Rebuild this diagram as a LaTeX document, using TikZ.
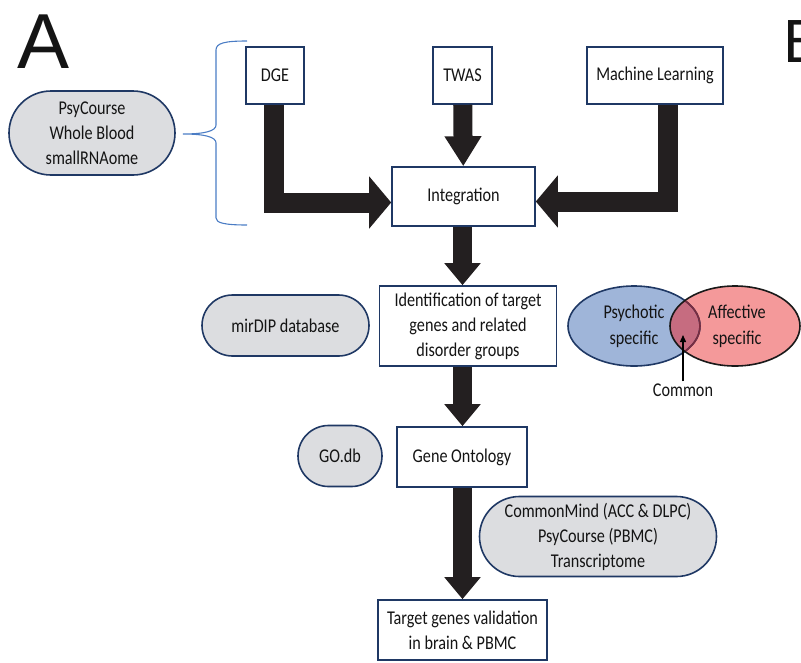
\documentclass[tikz,border=0pt]{standalone}
\usepackage{fontspec}
\setmainfont{Carlito}[FakeStretch=0.83]
\newfontfamily\panelfont{Liberation Sans}
\usetikzlibrary{arrows.meta,calc,shapes.misc}
\definecolor{navy}{HTML}{1F3864}
\definecolor{pillgray}{HTML}{DCDDE0}
\definecolor{arrowblack}{HTML}{231F20}
\definecolor{bracecol}{HTML}{4A7CC4}
\definecolor{psyblue}{HTML}{9FB5D9}
\definecolor{affred}{HTML}{F4999A}
\definecolor{commonmix}{HTML}{C66C80}
\definecolor{maroon}{HTML}{7B2C3F}
\tikzset{every node/.style={text=black!92, font=\fontsize{19.5}{25}\selectfont, align=center, inner sep=2pt}}
\tikzset{stepbox/.style={draw=navy, line width=1.6pt, fill=white}, pill/.style={rounded rectangle, draw=navy, line width=1.6pt, fill=pillgray}}
\tikzset{fat/.style={arrowblack, line width=19pt, arrows={-Triangle[width=35pt,length=#1]}}, fat/.default=22pt}
\tikzset{elbow/.style={arrowblack, line width=20pt, line join=miter, arrows={-Triangle[width=51pt,length=22pt]}}}

\begin{document}
\begin{tikzpicture}[x=1pt,y=-1pt]
   \useasboundingbox (0,0) rectangle (801,662);
   \node[anchor=base west, inner sep=0pt, font=\panelfont\fontsize{78}{78}\selectfont] (lettera) at (17,68) {A};
   \node[anchor=base west, inner sep=0pt, font=\panelfont\fontsize{61}{61}\selectfont] (letterb) at (783,62) {B};
   \node[pill, minimum width=170pt, minimum height=84pt] (psycourse) at (92,133) {PsyCourse\\Whole Blood\\smallRNAome};
   \coordinate (bracetip) at (183,134);
   \draw[bracecol, line width=1.1pt] (247,41) .. controls (225,41) and (216,43) .. (216,50) -- (216,125)
      .. controls (216,131) and (205,134) .. (bracetip) .. controls (205,134) and (216,137) .. (216,143)
      -- (216,218) .. controls (216,223) and (225,225) .. (247,225);
   \node[stepbox, minimum width=58pt, minimum height=57pt] (dge) at (275,75.5) {DGE};
   \node[stepbox, minimum width=59pt, minimum height=57pt] (twas) at (462.5,75.5) {TWAS};
   \node[stepbox, minimum width=136pt, minimum height=57pt] (ml) at (655,75.5) {Machine Learning};
   \node[stepbox, minimum width=143pt, minimum height=59pt] (integ) at (463.5,196.5) {Integration};
   \node[stepbox, minimum width=177pt, minimum height=80pt] (ident) at (468,326) {Identification of target\\genes and related\\disorder groups};
   \node[pill, minimum width=171pt, minimum height=61pt] (mirdip) at (285.5,325.5) {mirDIP database};
   \node[stepbox, minimum width=130pt, minimum height=60pt] (geneont) at (462,457) {Gene Ontology};
   \node[pill, minimum width=88pt, minimum height=61pt] (godb) at (340,456) {GO.db};
   \node[pill, minimum width=241pt, minimum height=80pt] (cmind) at (598,536.5) {CommonMind (ACC \& DLPC)\\PsyCourse (PBMC)\\Transcriptome};
   \node[stepbox, minimum width=169pt, minimum height=60pt] (valid) at (462.5,630) {Target genes validation\\in brain \& PBMC};
   \draw[elbow] ($(dge.south)+(-1.5,0)$) |- ($(integ.west)+(0,6)$);
   \draw[elbow] ($(ml.south)+(13,0)$) |- ($(integ.east)+(0,5)$);
   \draw[fat=30pt] (twas) -- (integ);
   \draw[fat] (integ.south -| twas) -- (ident.north -| twas);
   \draw[fat] (ident.south -| twas) -- (geneont.north -| twas);
   \draw[fat] (geneont.south -| twas) -- (valid.north -| twas);
   \fill[psyblue] (634,326) ellipse [x radius=66, y radius=40];
   \fill[affred] (735,326) ellipse [x radius=65, y radius=40];
   \begin{scope}
      \clip (634,326) ellipse [x radius=66, y radius=40];
      \fill[commonmix] (735,326) ellipse [x radius=65, y radius=40];
   \end{scope}
   \draw[navy, line width=1.6pt] (634,326) ellipse [x radius=66, y radius=40];
   \begin{scope}
      \clip (735,326) ellipse [x radius=65, y radius=40];
      \draw[maroon, line width=1.6pt] (634,326) ellipse [x radius=66, y radius=40];
   \end{scope}
   \draw[black!90, line width=1.6pt] (735,326) ellipse [x radius=65, y radius=40];
   \node[font=\fontsize{19.5}{26}\selectfont] (psychotic) at (634,326) {Psychotic\\specific};
   \node[font=\fontsize{19.5}{26}\selectfont] (affective) at (737,326) {Affective\\specific};
   \node (common) at (683,390) {Common};
   \coordinate (commontip) at (683,335);
   \draw[black, line width=1.3pt, -{Triangle[width=6pt,length=7pt]}] (common) -- (commontip);
\end{tikzpicture}
\end{document}
